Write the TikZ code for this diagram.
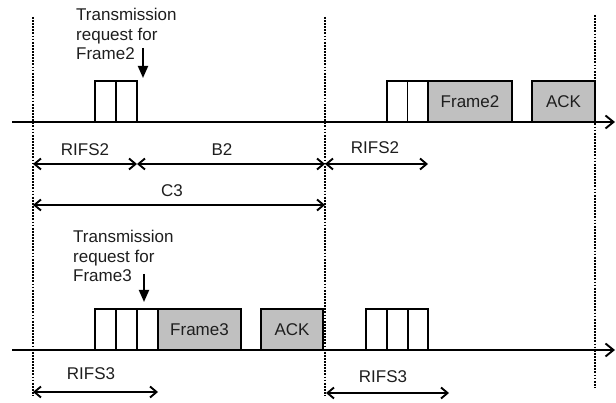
\documentclass[tikz,border=0pt]{standalone}
\usepackage{fontspec}
\setmainfont{Liberation Sans}
\usetikzlibrary{arrows.meta}
\definecolor{boxgray}{RGB}{192,192,192}
\definecolor{txt}{RGB}{30,30,30}
\begin{document}
\begin{tikzpicture}[x=1pt,y=-1pt,
  every node/.style={font=\fontsize{17}{19.5}\selectfont, text=txt},
  slotbox/.style={draw, line width=1.9pt, minimum width=21pt, minimum height=41pt, inner sep=0pt, outer sep=0pt, anchor=south west},
  framebox/.style={slotbox, fill=boxgray},
  timeline/.style={line width=1.9pt, -{Straight Barb[length=8pt,width=13pt]}},
  dimarrow/.style={line width=1.9pt, {Straight Barb[length=6.5pt,width=11pt]}-{Straight Barb[length=6.5pt,width=11pt]}},
  guide/.style={line width=1.8pt, dash pattern=on 1.8pt off 1.3pt},
  request/.style={line width=1.9pt, -{Triangle[length=12pt,width=10pt]}},
  reqtext/.style={align=left, anchor=north west, inner sep=0pt},
  dimlabel/.style={inner sep=0pt}
]
\useasboundingbox (0,0) rectangle (616,403);

% guide lines
\coordinate (g1t) at (33,17);  \coordinate (g1b) at (33,396);
\coordinate (g2t) at (325,17); \coordinate (g2b) at (325,396);
\coordinate (g3t) at (595,15); \coordinate (g3b) at (595,388);
\draw[guide] (g1t) -- (g1b);
\draw[guide] (g2t) -- (g2b);
\draw[guide] (g3t) -- (g3b);

% timelines
\coordinate (t1s) at (12,122); \coordinate (t1e) at (615,122);
\coordinate (t2s) at (12,350); \coordinate (t2e) at (615,350);

% upper row boxes
\node[slotbox] (u1) at (95,122) {};
\node[slotbox] (u2) at (116,122) {};
\node[slotbox, minimum width=20.5pt] (u3) at (387,122) {};
\node[slotbox, minimum width=20.5pt] (u4) at (407.5,122) {};
\node[framebox, minimum width=84pt] (f2) at (428,122) {Frame2};
\node[framebox, minimum width=63pt] (ack2) at (532,122) {ACK};

% lower row boxes
\node[slotbox] (l1) at (95,350) {};
\node[slotbox] (l2) at (116,350) {};
\node[slotbox] (l3) at (137,350) {};
\node[framebox, minimum width=83pt] (f3) at (158,350) {Frame3};
\node[framebox, minimum width=62pt] (ack3) at (261,350) {ACK};
\node[slotbox] (r1) at (366,350) {};
\node[slotbox] (r2) at (387,350) {};
\node[slotbox, minimum width=20pt] (r3) at (408,350) {};

\draw[timeline] (t1s) -- (t1e);
\draw[timeline] (t2s) -- (t2e);

% transmission requests
\node[reqtext] (req2) at (76,8) {Transmission\\request for\\Frame2};
\coordinate (q2s) at (143,48); \coordinate (q2e) at (143,78);
\draw[request] (q2s) -- (q2e);
\node[reqtext] (req3) at (73,230) {Transmission\\request for\\Frame3};
\coordinate (q3s) at (144,274); \coordinate (q3e) at (144,302);
\draw[request] (q3s) -- (q3e);

% dimension arrows, upper
\coordinate (d1a) at (33,164);  \coordinate (d1b) at (137,164);
\coordinate (d2b) at (325,164); \coordinate (d3b) at (428,164);
\coordinate (c3a) at (33,205);  \coordinate (c3b) at (325,205);
\draw[dimarrow] (d1a) -- (d1b);
\draw[dimarrow] (d1b) -- (d2b);
\draw[dimarrow] (d2b) -- (d3b);
\draw[dimarrow] (c3a) -- (c3b);
\node[dimlabel] (lr2a) at (85,149.5) {RIFS2};
\node[dimlabel] (lb2) at (222,149.5) {B2};
\node[dimlabel] (lr2b) at (375,148) {RIFS2};
\node[dimlabel] (lc3) at (172,191) {C3};

% dimension arrows, lower
\coordinate (e1a) at (33,392);  \coordinate (e1b) at (158,392);
\coordinate (e2a) at (326,393); \coordinate (e2b) at (449,393);
\draw[dimarrow] (e1a) -- (e1b);
\draw[dimarrow] (e2a) -- (e2b);
\node[dimlabel] (lr3a) at (91,374) {RIFS3};
\node[dimlabel] (lr3b) at (383,376.5) {RIFS3};
\end{tikzpicture}
\end{document}
